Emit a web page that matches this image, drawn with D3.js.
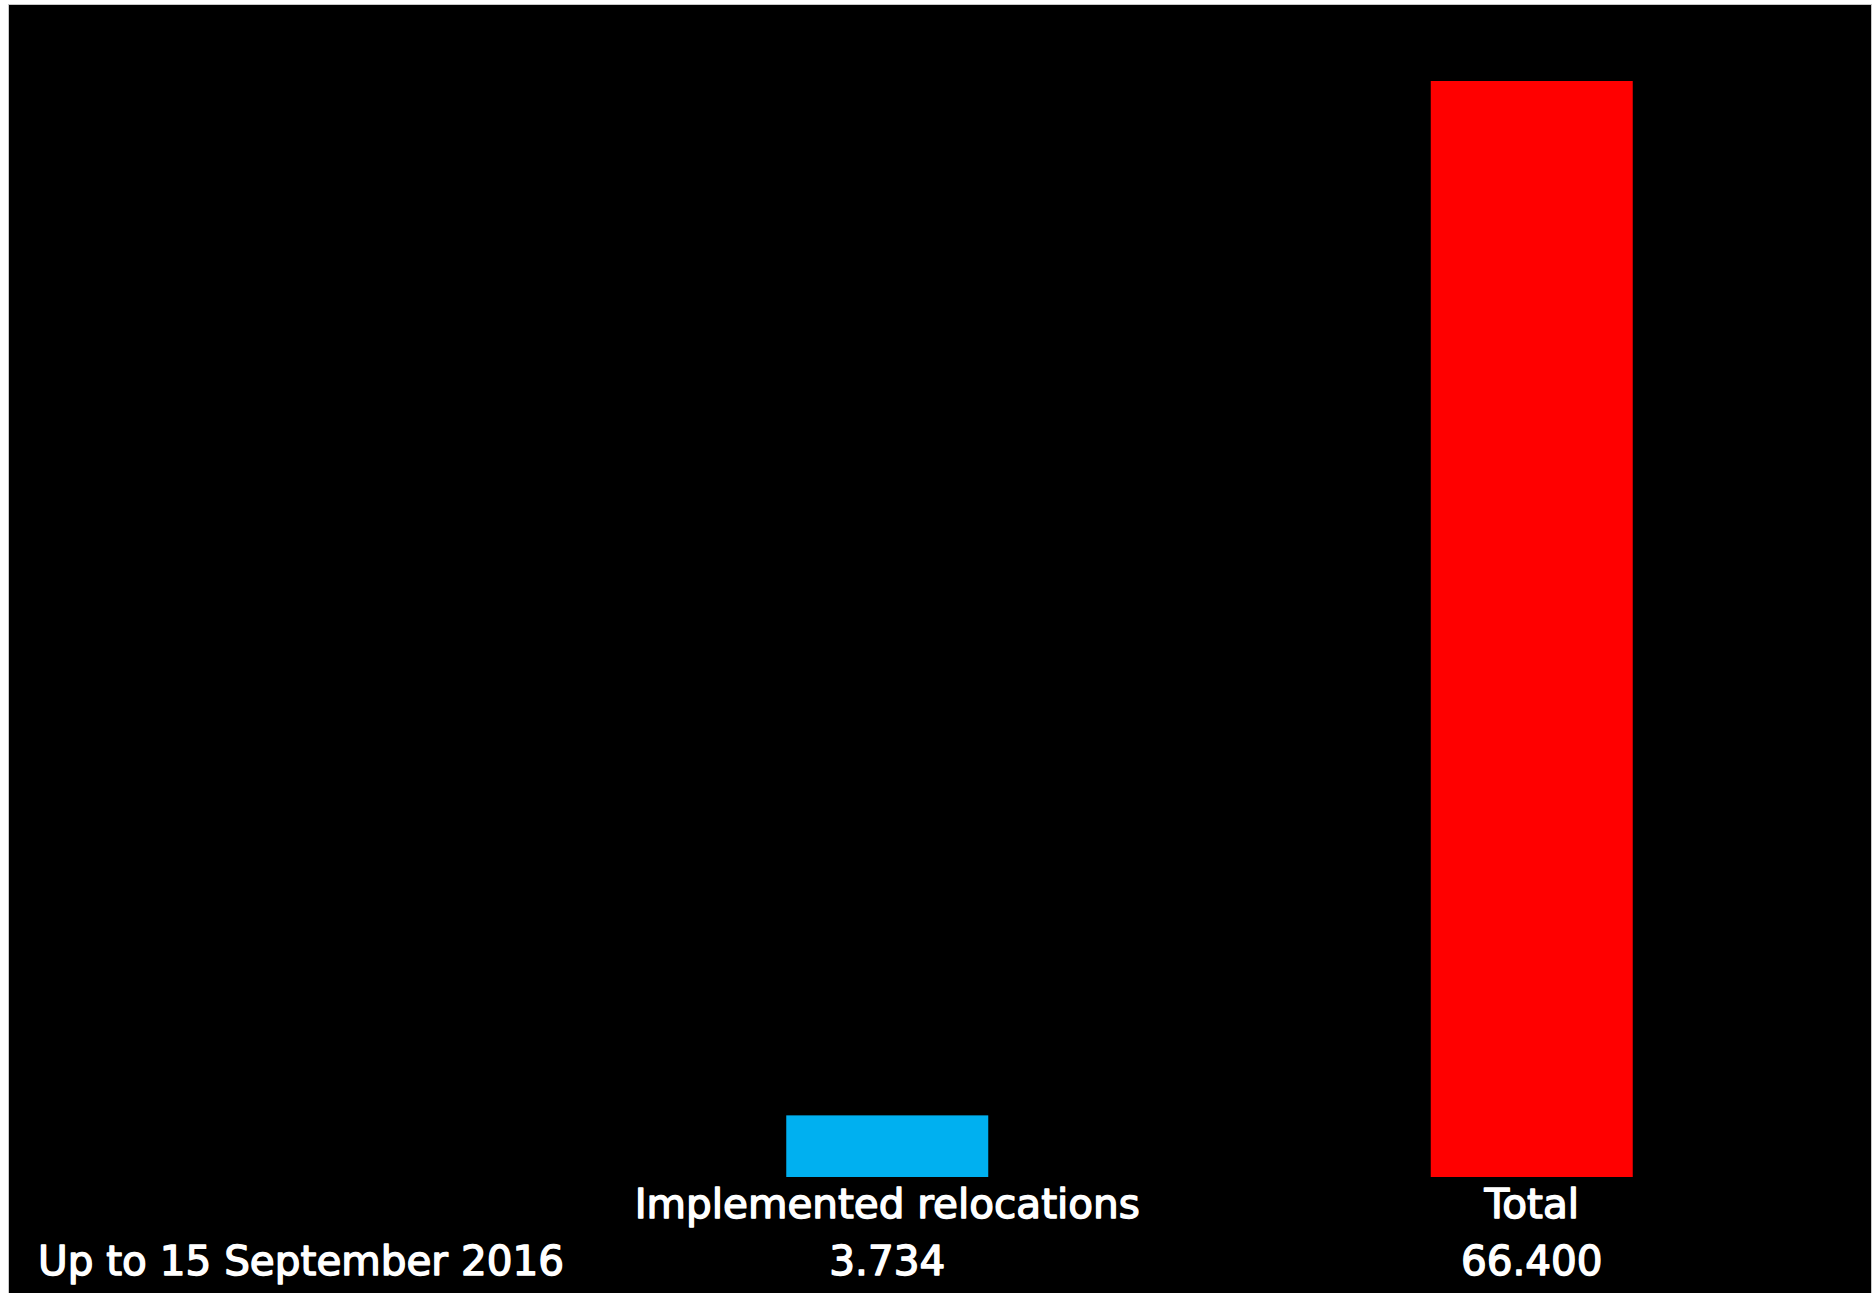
<!DOCTYPE html>
<html>
<head>
<meta charset="utf-8">
<script src="https://cdn.jsdelivr.net/npm/d3@7"></script>
<style>
  html, body { margin: 0; padding: 0; background: #ffffff; }
  svg { display: block; }
</style>
</head>
<body>
<svg id="chart" width="1874" height="1293"></svg>
<script>
// ---- data ----
const categories = ["Implemented relocations", "Total"];
const values = [3734, 66400];
const seriesName = "Up to 15 September 2016";
const barColors = ["#00B0F0", "#FF0000"];

// ---- layout ----
const plot = { left: 565, right: 1854, top: 81, bottom: 1177 };
const svg = d3.select("#chart");

const locale = d3.formatLocale({ decimal: ",", thousands: ".", grouping: [3], currency: ["", ""] });
const fmt = locale.format(",.0f");

// background panel
svg.append("rect")
  .attr("x", 8.5).attr("y", 4.5)
  .attr("width", 1863).attr("height", 1300)
  .attr("fill", "#000000")
  .attr("stroke", "#c8c8c8").attr("stroke-width", 1);

const x = d3.scaleBand()
  .domain(categories)
  .range([plot.left, plot.right])
  .paddingInner(0.6866)
  .paddingOuter(0.3433);

const y = d3.scaleLinear()
  .domain([0, d3.max(values)])
  .range([plot.bottom, plot.top]);

const data = categories.map((c, i) => ({ c, v: values[i], color: barColors[i] }));

svg.append("g").selectAll("rect")
  .data(data)
  .join("rect")
  .attr("x", d => x(d.c))
  .attr("y", d => y(d.v))
  .attr("width", x.bandwidth())
  .attr("height", d => y(0) - y(d.v))
  .attr("fill", d => d.color);

const fontFamily = "'DejaVu Sans', sans-serif";
const textStyle = sel => sel
  .attr("fill", "#ffffff")
  .attr("stroke", "#ffffff")
  .attr("stroke-width", 1.4)
  .attr("stroke-linejoin", "round")
  .attr("font-family", fontFamily)
  .attr("font-size", 40.5)
  .attr("font-weight", "normal");

// category labels (data table header row)
svg.append("g").selectAll("text")
  .data(data)
  .join("text")
  .attr("x", d => x(d.c) + x.bandwidth() / 2)
  .attr("y", 1218)
  .attr("text-anchor", "middle")
  .call(textStyle)
  .text(d => d.c);

// value row
svg.append("g").selectAll("text")
  .data(data)
  .join("text")
  .attr("x", d => x(d.c) + x.bandwidth() / 2)
  .attr("y", 1275)
  .attr("text-anchor", "middle")
  .call(textStyle)
  .text(d => fmt(d.v));

// series name
svg.append("text")
  .attr("x", 38)
  .attr("y", 1275)
  .call(textStyle)
  .text(seriesName);
</script>
</body>
</html>
